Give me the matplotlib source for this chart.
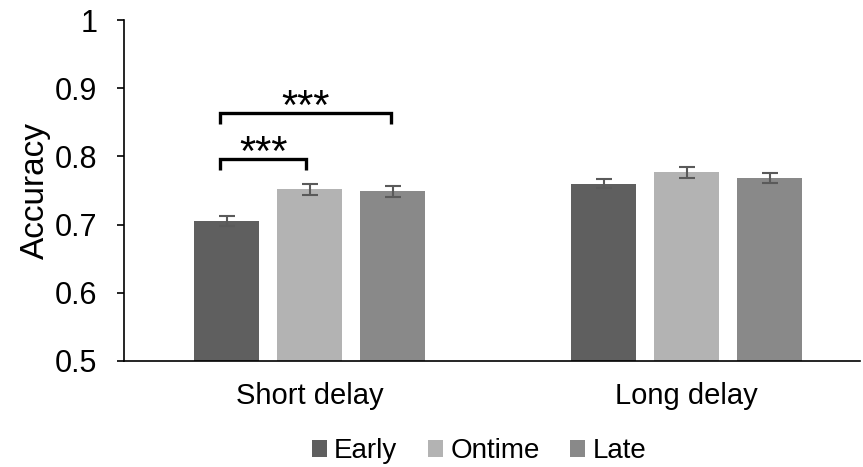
import matplotlib.pyplot as plt
import numpy as np

plt.rcParams['font.family'] = ['Liberation Sans', 'DejaVu Sans']

groups = ['Short delay', 'Long delay']
conditions = ['Early', 'Ontime', 'Late']
accuracy = {
    'Early': [0.705, 0.760],
    'Ontime': [0.752, 0.777],
    'Late': [0.749, 0.768],
}
sem = {
    'Early': [0.007, 0.007],
    'Ontime': [0.008, 0.008],
    'Late': [0.008, 0.007],
}
colors = {'Early': '#5f5f5f', 'Ontime': '#b3b3b3', 'Late': '#898989'}

fig = plt.figure(figsize=(8.63, 4.67), dpi=100)
ax = fig.add_axes([0.1437, 0.227, 0.853, 0.730])

x = np.arange(len(groups))
width = 0.172
step = 0.22
for i, c in enumerate(conditions):
    pos = x + (i - 1) * step
    ax.bar(pos, accuracy[c], width, color=colors[c], label=c,
           yerr=sem[c], error_kw=dict(ecolor='#5a5a5a', capsize=6, elinewidth=1.5, capthick=1.5))

# significance brackets
def bracket(x1, x2, y, h, ytext, text):
    ax.plot([x1, x1, x2, x2], [y - h, y, y, y - h], color='black', lw=2.4,
            solid_joinstyle='miter', solid_capstyle='butt')
    ax.text((x1 + x2) / 2, ytext, text, ha='center', va='baseline', fontsize=30)

bracket(-0.238, -0.010, 0.796, 0.016, 0.788, '***')
bracket(-0.238, 0.215, 0.8636, 0.016, 0.855, '***')

ax.set_ylim(0.5, 1.0)
ax.set_xlim(-0.493, 1.46)
ax.set_yticks([0.5, 0.6, 0.7, 0.8, 0.9, 1.0])
ax.set_yticklabels(['0.5', '0.6', '0.7', '0.8', '0.9', '1'])
ax.set_xticks(x)
ax.set_xticklabels(groups)
ax.tick_params(axis='y', direction='out', length=5, width=1.2, labelsize=22, pad=14)
ax.tick_params(axis='x', length=0, labelsize=21, pad=15)
ax.set_ylabel('Accuracy', fontsize=24, labelpad=3)
for s in ['top', 'right']:
    ax.spines[s].set_visible(False)
ax.spines['left'].set_linewidth(1.2)
ax.spines['bottom'].set_linewidth(1.2)

fig.legend(loc='lower center', bbox_to_anchor=(0.555, -0.048), ncol=3, frameon=False,
           fontsize=20, handlelength=0.55, handleheight=0.55, handletextpad=0.25, columnspacing=1.1)

fig.savefig('out.png', dpi=100)
